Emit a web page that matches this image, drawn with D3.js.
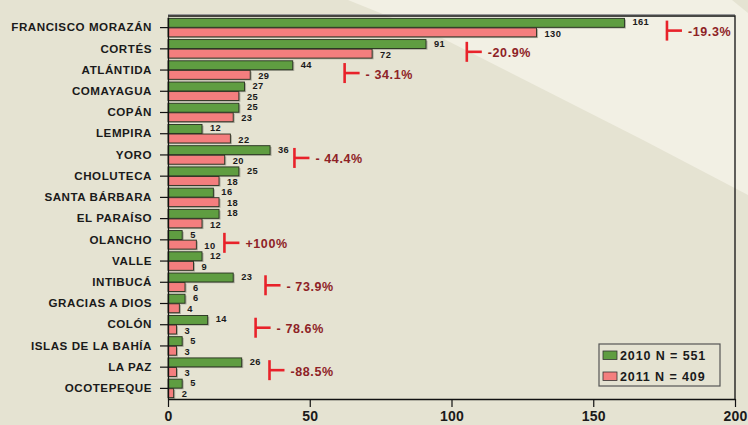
<!DOCTYPE html>
<html>
<head>
<meta charset="utf-8">
<script src="https://cdnjs.cloudflare.com/ajax/libs/d3/7.8.5/d3.min.js"></script>
<style>
  html, body { margin: 0; padding: 0; background: #e5e3d2; }
  svg { display: block; font-family: "Liberation Sans", Arial, sans-serif; font-weight: bold; }
</style>
</head>
<body>
<div id="chart"></div>
<script>
// Data ---------- ---------- ----------
let departments = ["FRANCISCO MORAZÁN", "CORTÉS", "ATLÁNTIDA", "COMAYAGUA", "COPÁN", "LEMPIRA", "YORO",
  "CHOLUTECA", "SANTA BÁRBARA", "EL PARAÍSO", "OLANCHO", "VALLE", "INTIBUCÁ", "GRACIAS A DIOS",
  "COLÓN", "ISLAS DE LA BAHÍA", "LA PAZ", "OCOTEPEQUE"];
let values2010 = [161, 91, 44, 27, 25, 12, 36, 25, 16, 18, 5, 12, 23, 6, 14, 5, 26, 5];
let values2011 = [130, 72, 29, 25, 23, 22, 20, 18, 18, 12, 10, 9, 6, 4, 3, 3, 3, 2];
let seriesNames = ["2010 N = 551", "2011 N = 409"];
let xTicks = [0, 50, 100, 150, 200];
// change annotations: department, where the mark sits (in axis units), label
let changeDept = ["FRANCISCO MORAZÁN", "CORTÉS", "ATLÁNTIDA", "YORO", "OLANCHO", "INTIBUCÁ", "COLÓN", "LA PAZ"];
let changeAt = [176, 105.4, 62.3, 44.6, 19.9, 34.4, 30.9, 35.8];
let changeText = ["-19.3%", "-20.9%", "- 34.1%", "- 44.4%", "+100%", "- 73.9%", "- 78.6%", "-88.5%"];

// Layout ---------- ---------- ----------
let W = 748, H = 425;
let plotL = 168, plotR = 735, plotT = 16, plotB = 399;
let green = "#5f9d41", pink = "#f47e7e", redMark = "#e8222a", redText = "#8e2226";
let bgDark = "#e5e3d2", bgLight = "#f2f0e4";

let svg = d3.select("#chart").append("svg").attr("width", W).attr("height", H);

// Background shapes
svg.append("rect").attr("width", W).attr("height", H).attr("fill", bgDark);
svg.append("path").attr("fill", bgLight)
  .attr("d", d3.line()([[348, 0], [748, 0], [748, 195], [643, 140], [440, 37]]));
svg.append("path").attr("fill", bgDark)
  .attr("d", d3.line()([[732, 0], [748, 0], [748, 13]]));

// Scales
let x = d3.scaleLinear().domain([0, 200]).range([plotL, plotR]);
let y = d3.scaleBand().domain(departments).range([plotT + 1, plotB]).paddingInner(0.1).paddingOuter(0.05);
let half = y.bandwidth() / 2;

// Frame (top + right)
svg.append("path").attr("fill", "none").attr("stroke", "#999").attr("stroke-width", 1)
  .attr("d", d3.line()([[plotL, plotT - 1.5], [plotR, plotT - 1.5]]));
svg.append("path").attr("fill", "none").attr("stroke", "#111").attr("stroke-width", 1.3)
  .attr("d", d3.line()([[plotL, plotT], [plotR, plotT], [plotR, plotB]]));

// Bars
let rows = departments.map((d, i) => ({ name: d, v: [values2010[i], values2011[i]] }));
let colors = [green, pink];
[0, 1].forEach(s => {
  let g = svg.append("g");
  g.selectAll(".shadow").data(rows).enter().append("rect")
    .attr("x", x(0) + 1.5).attr("y", d => y(d.name) + s * half + 1.5)
    .attr("width", d => x(d.v[s]) - x(0)).attr("height", half - 0.6)
    .attr("fill", "#7a7a70").attr("opacity", 0.55);
  g.selectAll(".bar").data(rows).enter().append("rect")
    .attr("x", x(0)).attr("y", d => y(d.name) + s * half + 0.3)
    .attr("width", d => x(d.v[s]) - x(0)).attr("height", half - 0.6)
    .attr("fill", colors[s]).attr("stroke", "#26301f").attr("stroke-width", 0.9);
  g.selectAll(".val").data(rows).enter().append("text")
    .attr("x", d => x(d.v[s]) + 8).attr("y", d => y(d.name) + s * half + half / 2 + (s ? 0.8 : -0.8))
    .attr("dy", "0.36em").attr("font-size", 9.3).attr("letter-spacing", 0.4).attr("fill", "#1a1a1a")
    .text(d => d.v[s]);
});

// Y axis
let yAxis = svg.append("g").attr("transform", "translate(" + plotL + ",0)")
  .call(d3.axisLeft(y).tickSize(8).tickPadding(8).tickSizeOuter(0));
yAxis.select(".domain").attr("stroke", "#111").attr("stroke-width", 1.3);
yAxis.selectAll(".tick line").attr("stroke", "#111").attr("stroke-width", 1.2);
yAxis.selectAll(".tick text").attr("font-size", 11.6).attr("letter-spacing", 0.55).attr("fill", "#1a1a1a")
  .attr("font-family", "Liberation Sans, Arial, sans-serif").attr("font-weight", "bold");

// X axis
let xAxis = svg.append("g").attr("transform", "translate(0," + plotB + ")")
  .call(d3.axisBottom(x).tickValues(xTicks).tickSize(8).tickPadding(4).tickSizeOuter(0));
xAxis.select(".domain").attr("stroke", "#111").attr("stroke-width", 1.3);
xAxis.selectAll(".tick line").attr("stroke", "#111").attr("stroke-width", 1.2);
xAxis.selectAll(".tick text").attr("font-size", 14).attr("letter-spacing", 0.2).attr("fill", "#1a1a1a")
  .attr("font-family", "Liberation Sans, Arial, sans-serif").attr("font-weight", "bold");

// Change annotations
let notes = changeDept.map((d, i) => ({ name: d, at: changeAt[i], label: changeText[i] }));
let ng = svg.append("g").selectAll("g").data(notes).enter().append("g")
  .attr("transform", d => "translate(" + x(d.at) + "," + (y(d.name) + y.bandwidth() / 2 + 3) + ")");
ng.append("path").attr("fill", "none").attr("stroke", redMark).attr("stroke-width", 2.6)
  .attr("d", d3.line()([[0, -10], [0, 10]]));
ng.append("path").attr("fill", "none").attr("stroke", redMark).attr("stroke-width", 2.6)
  .attr("d", d3.line()([[0, 0], [15, 0]]));
ng.append("text").attr("x", 21).attr("y", 1).attr("dy", "0.36em")
  .attr("font-size", 12.5).attr("letter-spacing", 0.6).attr("fill", redText).text(d => d.label);

// Legend
let legend = svg.append("g").attr("transform", "translate(599,344)");
legend.append("rect").attr("width", 121).attr("height", 42)
  .attr("fill", bgDark).attr("stroke", "#555").attr("stroke-width", 1.2);
let li = legend.selectAll(".item").data(seriesNames).enter().append("g")
  .attr("transform", (d, i) => "translate(4," + (7 + i * 21) + ")");
li.append("rect").attr("width", 14).attr("height", 8.5)
  .attr("fill", (d, i) => colors[i]).attr("stroke", "#333").attr("stroke-width", 0.8);
li.append("text").attr("x", 17).attr("y", 4.3).attr("dy", "0.36em")
  .attr("font-size", 12.5).attr("letter-spacing", 0.9).attr("fill", "#1a1a1a").text(d => d);
</script>
</body>
</html>
